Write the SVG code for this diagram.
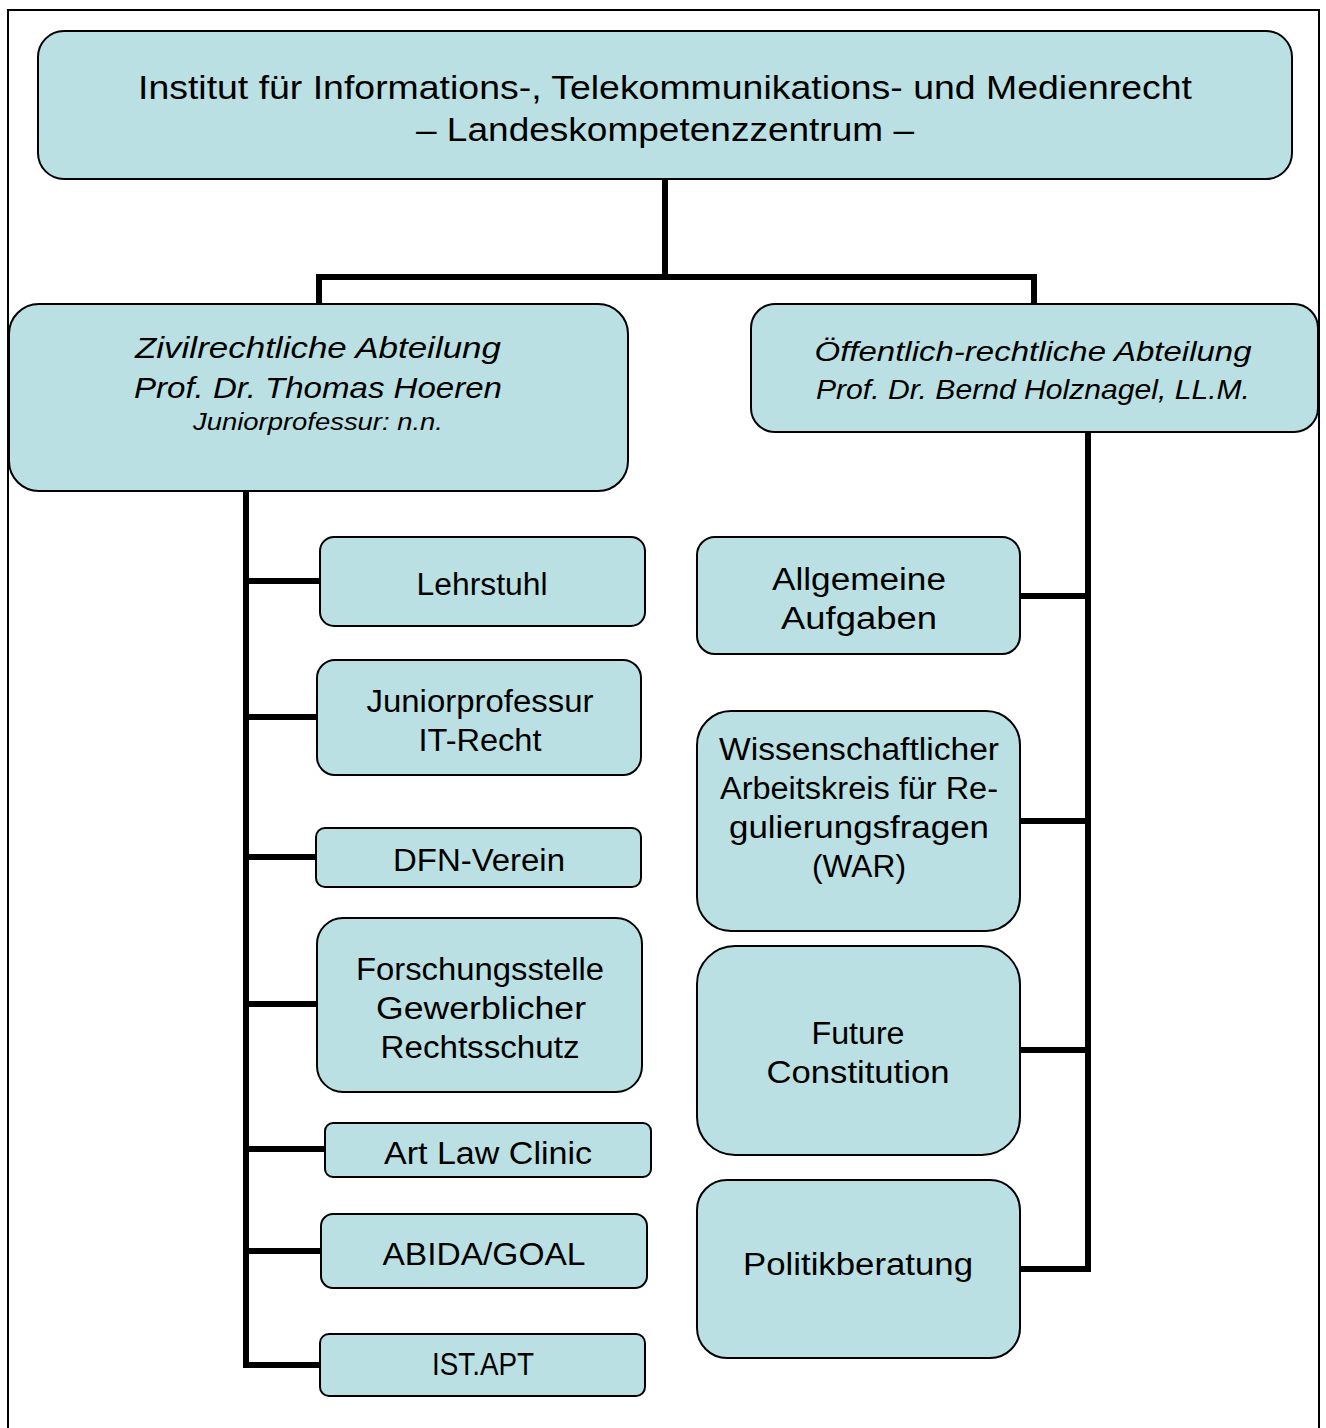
<svg xmlns="http://www.w3.org/2000/svg" width="1326" height="1428" viewBox="0 0 1326 1428">
<style>
.n{fill:#bae0e3;stroke:#000;stroke-width:2}
.t{font-family:"Liberation Sans",Arial,sans-serif;font-size:31px;fill:#000;text-anchor:middle}
.i{font-style:italic}
.c{stroke:#000;stroke-width:6;fill:none;stroke-linecap:square}
</style>
<rect x="0" y="0" width="1326" height="1428" fill="#fff"/>
<rect x="8" y="10" width="1311" height="1430" fill="none" stroke="#000" stroke-width="2"/>
<g id="connectors">
<path class="c" d="M665 180V277M319 277H1034M319 277V302M1034 277V302"/>
<path class="c" d="M246 492V1365H318M246 581H318M246 717H315M246 857H314M246 1004H315M246 1149H323M246 1251H319"/>
<path class="c" d="M1088 433V1269H1022M1088 596H1022M1088 821H1022M1088 1050H1022"/>
</g>
<g id="top"><rect class="n" x="38" y="31" width="1254" height="148" rx="26"/>
<text class="t" x="665" y="99" style="font-size:33px" textLength="1054" lengthAdjust="spacingAndGlyphs">Institut für Informations-, Telekommunikations- und Medienrecht</text>
<text class="t" x="665" y="141" style="font-size:33px" textLength="498" lengthAdjust="spacingAndGlyphs">– Landeskompetenzzentrum –</text></g>
<g id="zivil"><rect class="n" x="9" y="304" width="619" height="187" rx="30"/>
<text class="t i" x="318" y="358" style="font-size:30px" textLength="366" lengthAdjust="spacingAndGlyphs">Zivilrechtliche Abteilung</text>
<text class="t i" x="318" y="398" style="font-size:30px" textLength="368" lengthAdjust="spacingAndGlyphs">Prof. Dr. Thomas Hoeren</text>
<text class="t i" x="318" y="430" style="font-size:23px" textLength="250" lengthAdjust="spacingAndGlyphs">Juniorprofessur: n.n.</text></g>
<g id="oeff"><rect class="n" x="751" y="304" width="567" height="128" rx="24"/>
<text class="t i" x="1033" y="361" style="font-size:28px" textLength="437" lengthAdjust="spacingAndGlyphs">Öffentlich-rechtliche Abteilung</text>
<text class="t i" x="1033" y="399" style="font-size:28px" textLength="434" lengthAdjust="spacingAndGlyphs">Prof. Dr. Bernd Holznagel, LL.M.</text></g>
<g id="lehrstuhl"><rect class="n" x="320" y="537" width="325" height="89" rx="14"/>
<text class="t" x="482" y="595" textLength="131" lengthAdjust="spacingAndGlyphs">Lehrstuhl</text></g>
<g id="junior"><rect class="n" x="317" y="660" width="324" height="115" rx="18"/>
<text class="t" x="480" y="712" textLength="227" lengthAdjust="spacingAndGlyphs">Juniorprofessur</text>
<text class="t" x="480" y="751" textLength="123" lengthAdjust="spacingAndGlyphs">IT-Recht</text></g>
<g id="dfn"><rect class="n" x="316" y="828" width="325" height="59" rx="9"/>
<text class="t" x="479" y="871" textLength="172" lengthAdjust="spacingAndGlyphs">DFN-Verein</text></g>
<g id="forschung"><rect class="n" x="317" y="918" width="325" height="174" rx="26"/>
<text class="t" x="480" y="980" textLength="248" lengthAdjust="spacingAndGlyphs">Forschungsstelle</text>
<text class="t" x="481" y="1019" textLength="210" lengthAdjust="spacingAndGlyphs">Gewerblicher</text>
<text class="t" x="480" y="1058" textLength="199" lengthAdjust="spacingAndGlyphs">Rechtsschutz</text></g>
<g id="artlaw"><rect class="n" x="325" y="1123" width="326" height="54" rx="8"/>
<text class="t" x="488" y="1164" textLength="208" lengthAdjust="spacingAndGlyphs">Art Law Clinic</text></g>
<g id="abida"><rect class="n" x="321" y="1214" width="326" height="74" rx="12"/>
<text class="t" x="484" y="1265" textLength="203" lengthAdjust="spacingAndGlyphs">ABIDA/GOAL</text></g>
<g id="istapt"><rect class="n" x="320" y="1334" width="325" height="62" rx="9"/>
<text class="t" x="483" y="1375" textLength="102" lengthAdjust="spacingAndGlyphs">IST.APT</text></g>
<g id="allgemeine"><rect class="n" x="697" y="537" width="323" height="117" rx="18"/>
<text class="t" x="859" y="590" textLength="174" lengthAdjust="spacingAndGlyphs">Allgemeine</text>
<text class="t" x="859" y="629" textLength="156" lengthAdjust="spacingAndGlyphs">Aufgaben</text></g>
<g id="war"><rect class="n" x="697" y="711" width="323" height="220" rx="34"/>
<text class="t" x="859" y="760" textLength="280" lengthAdjust="spacingAndGlyphs">Wissenschaftlicher</text>
<text class="t" x="859" y="799" textLength="278" lengthAdjust="spacingAndGlyphs">Arbeitskreis für Re-</text>
<text class="t" x="859" y="838" textLength="260" lengthAdjust="spacingAndGlyphs">gulierungsfragen</text>
<text class="t" x="859" y="877" textLength="94" lengthAdjust="spacingAndGlyphs">(WAR)</text></g>
<g id="future"><rect class="n" x="697" y="946" width="323" height="209" rx="38"/>
<text class="t" x="858" y="1044" textLength="93" lengthAdjust="spacingAndGlyphs">Future</text>
<text class="t" x="858" y="1083" textLength="183" lengthAdjust="spacingAndGlyphs">Constitution</text></g>
<g id="politik"><rect class="n" x="697" y="1180" width="323" height="178" rx="30"/>
<text class="t" x="858" y="1275" textLength="230" lengthAdjust="spacingAndGlyphs">Politikberatung</text></g>
</svg>
